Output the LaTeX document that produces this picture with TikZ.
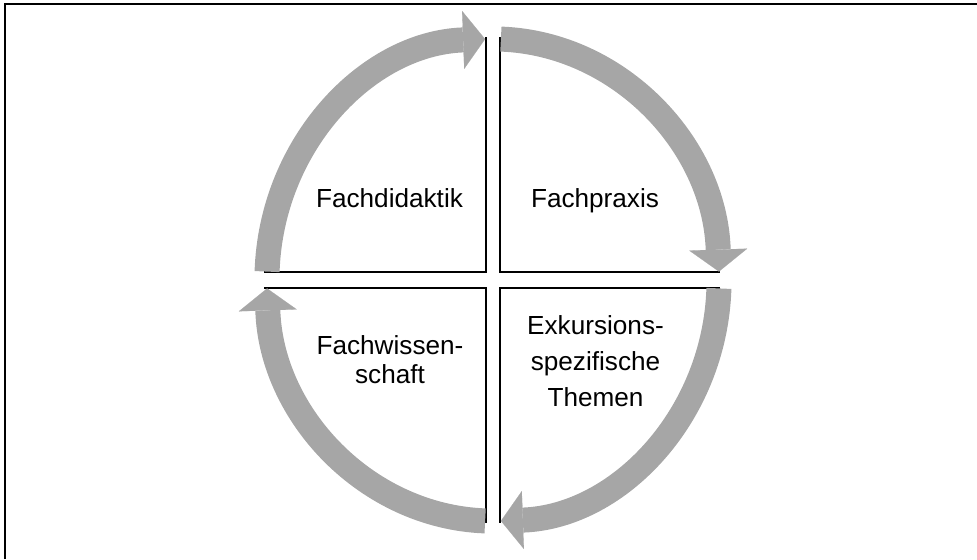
\documentclass[tikz,border=0pt]{standalone}
\usepackage{fontspec}
\setmainfont{Liberation Sans}
\usetikzlibrary{arrows.meta, bending, calc}
\definecolor{cyclegray}{RGB}{166,166,166}

\begin{document}
\begin{tikzpicture}[x=0.025cm, y=0.025cm,
    cyclearrow/.style={line width=0.625cm, draw=cyclegray,
      -{Triangle[length=0.55cm, width=1.45cm, line width=0.1pt, quick]}},
    quadline/.style={line width=1.3pt},
    topic/.style={inner sep=0pt, align=center, font=\fontsize{18.6}{20.6}\selectfont}]
  \useasboundingbox (0, 0) rectangle (977, 559);
  \draw[line width=1.8pt] (5, 0) -- (5, 555) -- (977, 555);
  \coordinate (m) at (493, 279);
  % quadrant corners
  \draw[quadline] (486, 522) -- (486, 287) -- (264, 287);
  \draw[quadline] (500, 522) -- (500, 287) -- (720, 287);
  \draw[quadline] (264, 271) -- (486, 271) -- (486, 36);
  \draw[quadline] (720, 271) -- (500, 271) -- (500, 36);
  % cycle arrows
  \draw[cyclearrow] ($(m)+(178:5.65cm and 6.025cm)$)
    arc[start angle=178, end angle=92, x radius=5.65cm, y radius=6.025cm];
  \draw[cyclearrow] ($(m)+(88:5.65cm and 6.025cm)$)
    arc[start angle=88, end angle=2, x radius=5.65cm, y radius=6.025cm];
  \draw[cyclearrow] ($(m)+(-2:5.65cm and 6.025cm)$)
    arc[start angle=-2, end angle=-88, x radius=5.65cm, y radius=6.025cm];
  \draw[cyclearrow] ($(m)+(-92:5.65cm and 6.025cm)$)
    arc[start angle=-92, end angle=-178, x radius=5.65cm, y radius=6.025cm];
  % texts
  \node[topic, anchor=base] (didaktik) at (389.5, 351) {Fachdidaktik};
  \node[topic, anchor=base] (praxis) at (595, 351) {Fachpraxis};
  \node[topic, anchor=north] (wissenschaft) at (390, 224) {Fachwissen-\\schaft};
  \node[topic, anchor=north, font=\fontsize{18.6}{25.6}\selectfont] (themen)
    at (595.5, 244) {Exkursions-\\spezifische\\Themen};
\end{tikzpicture}
\end{document}
